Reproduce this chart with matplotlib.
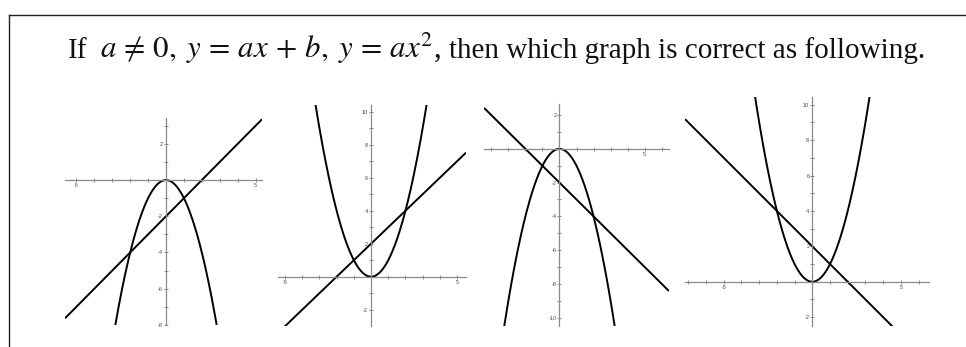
import numpy as np
import matplotlib
matplotlib.use("Agg")
from matplotlib import pyplot as plt
from matplotlib.lines import Line2D

plt.rcParams['font.family'] = ['Liberation Serif', 'DejaVu Serif']
plt.rcParams['mathtext.fontset'] = 'stix'

# coefficients per panel: y = k*x + b (line), y = a*x^2 (parabola)
line_k = [1, 1, -1, -1]
line_b = [-2, 2, -2, 2]
parab_a = [-1, 1, -1, 1]

# visible window of each graph
xlims = [(-5.64, 5.36), (-5.41, 5.52), (-4.43, 6.43), (-7.19, 6.59)]
ylims = [(-8.01, 3.43), (-2.99, 10.41), (-10.5, 2.66), (-2.5, 10.44)]

# labelled ticks
xlabels = [[-5, 5], [-5, 5], [5], [-5, 5]]
ylabels = [[2, -2, -4, -6, -8], [10, 8, 6, 4, 2, -2],
           [2, -2, -4, -6, -8, -10], [10, 8, 6, 4, 2, -2]]

# axes boxes in pixels (left, top, right, bottom)
boxes_px = [(65, 118, 262, 325), (278, 105, 466, 326),
            (484, 104, 669, 326), (685, 97, 929, 326)]

W, H = 966, 347
fig = plt.figure(figsize=(W / 100, H / 100), dpi=100)
renderer = fig.canvas.get_renderer()

base_y = 1 - 58 / H
ink = '#111111'
fig.text(68 / W, base_y, "If", fontsize=21, va='baseline', ha='left', color=ink)
math = fig.text(100 / W, base_y,
                r"$a \,\neq\, 0,\; y \,=\, ax \,+\, b,\; y \,=\, ax^2$,",
                fontsize=21, va='baseline', ha='left', color=ink)
# fit the formula to the width it takes in the picture (100 -> 440 px)
w = math.get_window_extent(renderer).width
math.set_fontsize(21 * 340 / w)
fig.text(449 / W, base_y, "then which graph is correct as following.",
         fontsize=21, va='baseline', ha='left', color=ink)

# frame round the question
fig.add_artist(Line2D([9 / W, 9 / W], [0, 1 - 15 / H], color='#222222', lw=1.0))
fig.add_artist(Line2D([9 / W, 1], [1 - 15 / H, 1 - 15 / H], color='#222222', lw=1.0))

gray = '#8a8a8a'
for i in range(4):
    l, t, r, b = boxes_px[i]
    ax = fig.add_axes([l / W, 1 - b / H, (r - l) / W, (b - t) / H])
    ax.set_xlim(*xlims[i])
    ax.set_ylim(*ylims[i])
    ax.patch.set_visible(False)
    for s in ['top', 'right']:
        ax.spines[s].set_visible(False)
    for s in ['left', 'bottom']:
        ax.spines[s].set_position(('data', 0))
        ax.spines[s].set_color(gray)
        ax.spines[s].set_linewidth(0.9)

    xt = np.arange(np.ceil(xlims[i][0]), np.floor(xlims[i][1]) + 1)
    yt = np.arange(np.ceil(ylims[i][0]), np.floor(ylims[i][1]) + 1)
    xt = xt[xt != 0]
    yt = yt[yt != 0]
    ax.set_xticks(xt)
    ax.set_yticks(yt)
    ax.set_xticklabels([str(int(v)) if v in xlabels[i] else '' for v in xt])
    ax.set_yticklabels([str(int(v)) if v in ylabels[i] else '' for v in yt])
    ax.tick_params(direction='inout', length=3.4, width=0.7, color=gray,
                   labelsize=4, labelcolor='#4a4a4a', pad=0.5)
    for lab in ax.get_xticklabels() + ax.get_yticklabels():
        lab.set_family('Liberation Sans')

    xs = np.linspace(xlims[i][0], xlims[i][1], 400)
    ax.plot(xs, parab_a[i] * xs ** 2, color='black', lw=1.4, solid_capstyle='butt')
    ax.plot(xs, line_k[i] * xs + line_b[i], color='black', lw=1.4, solid_capstyle='butt')

fig.savefig('out.png', dpi=100)
